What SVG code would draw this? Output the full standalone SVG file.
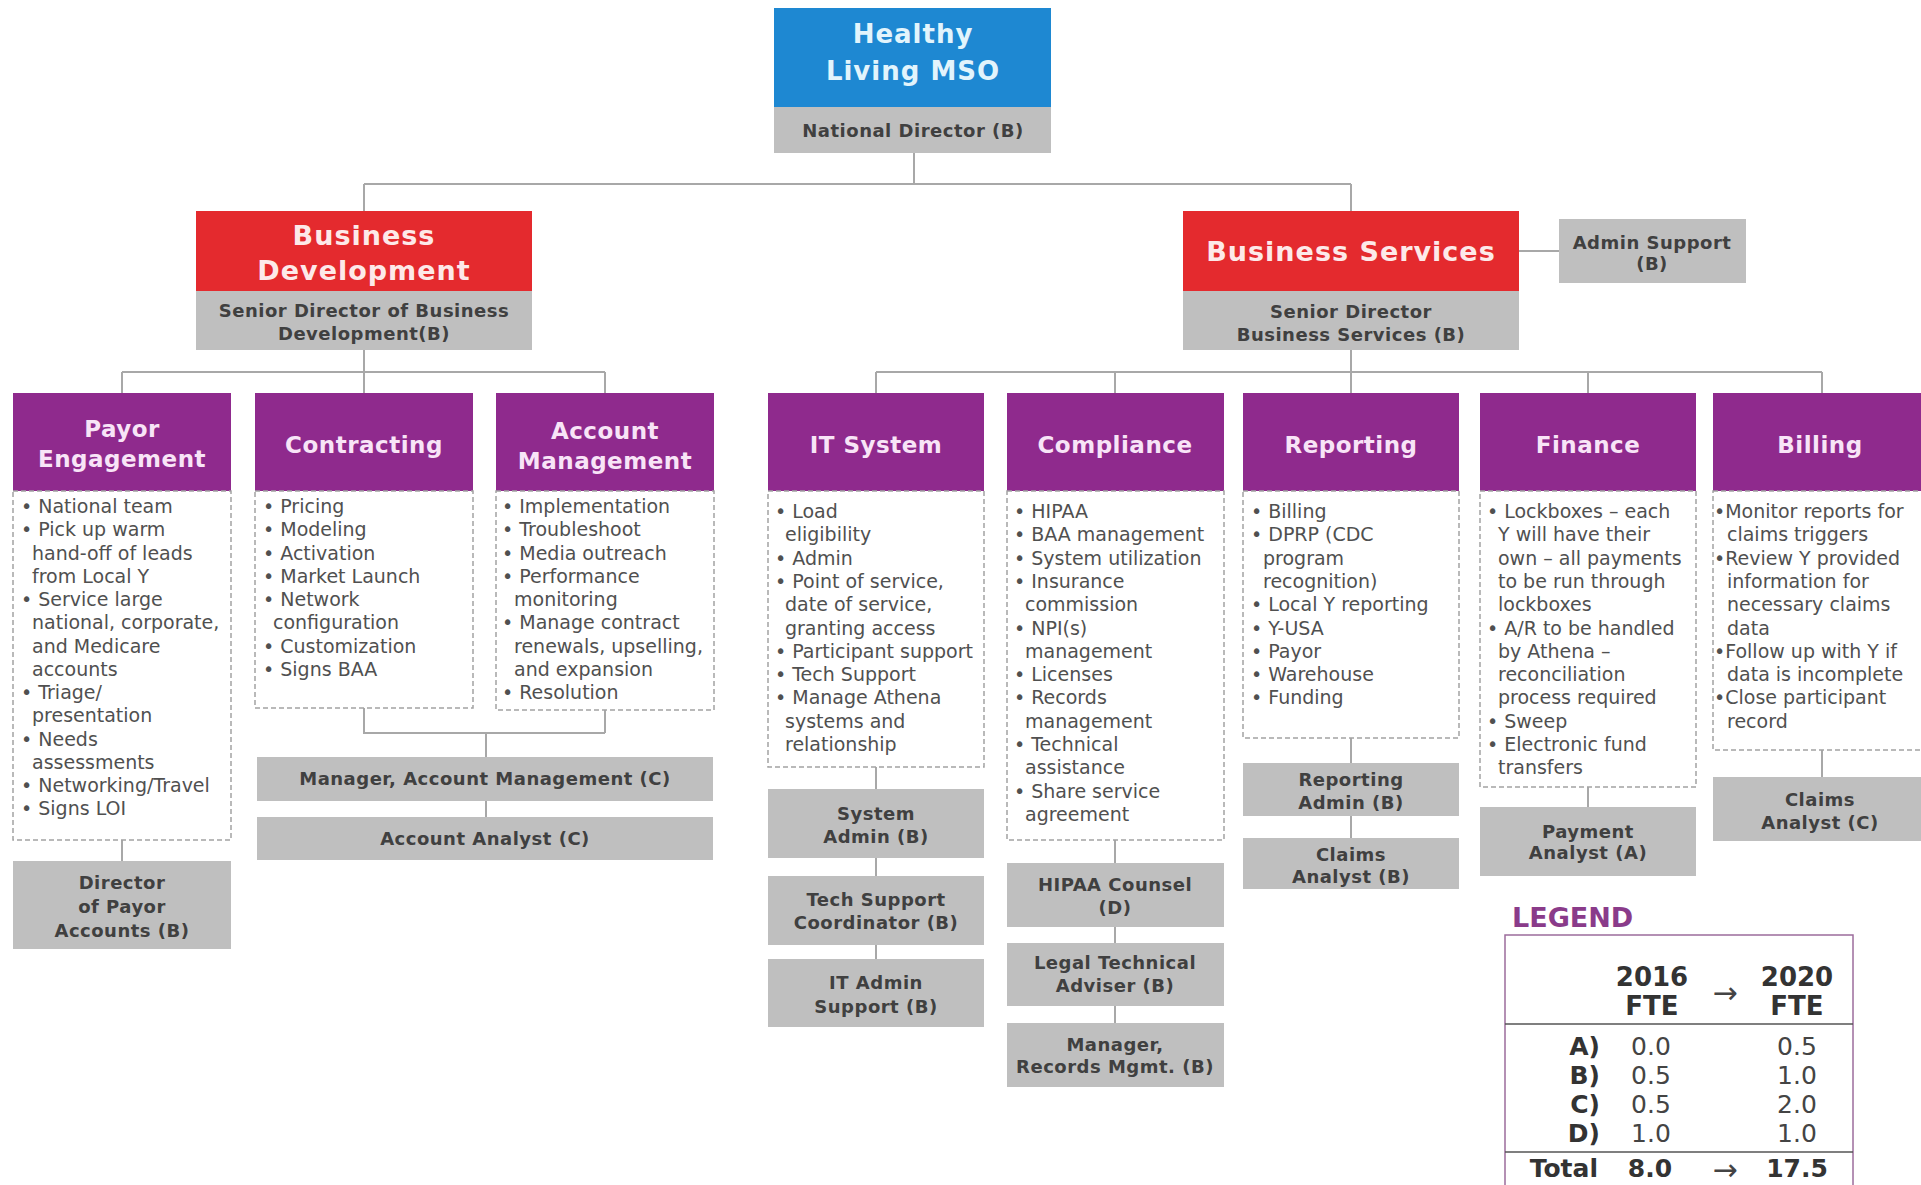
<svg xmlns="http://www.w3.org/2000/svg" width="1921" height="1185" viewBox="0 0 1921 1185">
  <style>
    text { font-family: "DejaVu Sans", Verdana, sans-serif; }
    .top { font-weight: bold; font-size: 26px; fill: #e2f4fc; text-anchor: middle; letter-spacing: 1px; }
    .dept { font-weight: bold; font-size: 27px; fill: #fde9e9; text-anchor: middle; letter-spacing: 1px; }
    .fn { font-weight: bold; font-size: 23px; fill: #f8e4f7; text-anchor: middle; letter-spacing: 0.5px; }
    .role { font-weight: bold; font-size: 18px; fill: #404040; text-anchor: middle; letter-spacing: 0.5px; }
    .item { font-size: 19px; fill: #505050; }
    .blue { fill: #1e88d2; }
    .red { fill: #e42a2e; }
    .purple { fill: #8f2a8d; }
    .gray { fill: #bfbfbf; }
    .duty { fill: #ffffff; stroke: #a3a3a3; stroke-width: 1.5; stroke-dasharray: 5 3; }
    .link { fill: none; stroke: #a8a8a8; stroke-width: 2; }
    .lg-title { font-weight: bold; font-size: 27px; fill: #8a3b8a; }
    .lg-head { font-weight: bold; font-size: 26px; fill: #333333; text-anchor: middle; }
    .lg-key { font-weight: bold; font-size: 25px; fill: #333333; text-anchor: end; }
    .lg-val { font-size: 25px; fill: #444444; text-anchor: middle; }
    .lg-bold { font-weight: bold; font-size: 25px; fill: #333333; text-anchor: middle; }
    .lg-arrow { font-size: 30px; fill: #444444; text-anchor: middle; }
  </style>

  <rect x="0" y="0" width="1921" height="1185" fill="#ffffff"/>

  <!-- connectors -->
  <g id="connectors" class="link">
    <path d="M914 153 V184 M364 184 H1351 M364 184 V211 M1351 184 V211"/>
    <path d="M1519 251 H1559"/>
    <path d="M364 350 V372 M122 372 H605 M122 372 V393 M364 372 V393 M605 372 V393"/>
    <path d="M1351 350 V372 M876 372 H1822 M876 372 V393 M1115 372 V393 M1351 372 V393 M1588 372 V393 M1822 372 V393"/>
    <path d="M122 840 V861"/>
    <path d="M364 708 V733 H605 M605 710 V733 M486 733 V757 M486 801 V817"/>
    <path d="M876 767 V789 M876 858 V876 M876 945 V959"/>
    <path d="M1115 840 V863 M1115 927 V943 M1115 1006 V1023"/>
    <path d="M1351 738 V763 M1351 816 V838"/>
    <path d="M1588 787 V807"/>
    <path d="M1822 750 V777"/>
  </g>

  <!-- top level -->
  <g id="healthy-living-mso">
    <rect class="blue" x="774" y="8" width="277" height="99"/>
    <text class="top" x="913" y="43">Healthy</text>
    <text class="top" x="913" y="80">Living MSO</text>
    <rect class="gray" x="774" y="107" width="277" height="46"/>
    <text class="role" x="913" y="137">National Director (B)</text>
  </g>

  <!-- departments -->
  <g id="business-development">
    <rect class="red" x="196" y="211" width="336" height="80"/>
    <text class="dept" x="364" y="245">Business</text>
    <text class="dept" x="364" y="280">Development</text>
    <rect class="gray" x="196" y="291" width="336" height="59"/>
    <text class="role" x="364" y="317">Senior Director of Business</text>
    <text class="role" x="364" y="340">Development(B)</text>
  </g>

  <g id="business-services">
    <rect class="red" x="1183" y="211" width="336" height="80"/>
    <text class="dept" x="1351" y="261">Business Services</text>
    <rect class="gray" x="1183" y="291" width="336" height="59"/>
    <text class="role" x="1351" y="318">Senior Director</text>
    <text class="role" x="1351" y="341">Business Services (B)</text>
  </g>

  <g id="admin-support">
    <rect class="gray" x="1559" y="219" width="187" height="64"/>
    <text class="role" x="1652" y="249">Admin Support</text>
    <text class="role" x="1652" y="270">(B)</text>
  </g>

  <!-- functions -->
  <g id="payor-engagement">
    <rect class="purple" x="13" y="393" width="218" height="98"/>
    <text class="fn" x="122" y="437">Payor</text>
    <text class="fn" x="122" y="467">Engagement</text>
    <rect class="duty" x="13" y="491" width="218" height="349"/>
    <text class="item" y="513">
      <tspan x="21">• National team</tspan>
      <tspan x="21" dy="23.25">• Pick up warm</tspan>
      <tspan x="32" dy="23.25">hand-off of leads</tspan>
      <tspan x="32" dy="23.25">from Local Y</tspan>
      <tspan x="21" dy="23.25">• Service large</tspan>
      <tspan x="32" dy="23.25">national, corporate,</tspan>
      <tspan x="32" dy="23.25">and Medicare</tspan>
      <tspan x="32" dy="23.25">accounts</tspan>
      <tspan x="21" dy="23.25">• Triage/</tspan>
      <tspan x="32" dy="23.25">presentation</tspan>
      <tspan x="21" dy="23.25">• Needs</tspan>
      <tspan x="32" dy="23.25">assessments</tspan>
      <tspan x="21" dy="23.25">• Networking/Travel</tspan>
      <tspan x="21" dy="23.25">• Signs LOI</tspan>
    </text>
  </g>

  <g id="contracting">
    <rect class="purple" x="255" y="393" width="218" height="98"/>
    <text class="fn" x="364" y="453">Contracting</text>
    <rect class="duty" x="255" y="491" width="218" height="217"/>
    <text class="item" y="513">
      <tspan x="263">• Pricing</tspan>
      <tspan x="263" dy="23.25">• Modeling</tspan>
      <tspan x="263" dy="23.25">• Activation</tspan>
      <tspan x="263" dy="23.25">• Market Launch</tspan>
      <tspan x="263" dy="23.25">• Network</tspan>
      <tspan x="273" dy="23.25">configuration</tspan>
      <tspan x="263" dy="23.25">• Customization</tspan>
      <tspan x="263" dy="23.25">• Signs BAA</tspan>
    </text>
  </g>

  <g id="account-management">
    <rect class="purple" x="496" y="393" width="218" height="98"/>
    <text class="fn" x="605" y="439">Account</text>
    <text class="fn" x="605" y="469">Management</text>
    <rect class="duty" x="496" y="491" width="218" height="219"/>
    <text class="item" y="513">
      <tspan x="502">• Implementation</tspan>
      <tspan x="502" dy="23.25">• Troubleshoot</tspan>
      <tspan x="502" dy="23.25">• Media outreach</tspan>
      <tspan x="502" dy="23.25">• Performance</tspan>
      <tspan x="514" dy="23.25">monitoring</tspan>
      <tspan x="502" dy="23.25">• Manage contract</tspan>
      <tspan x="514" dy="23.25">renewals, upselling,</tspan>
      <tspan x="514" dy="23.25">and expansion</tspan>
      <tspan x="502" dy="23.25">• Resolution</tspan>
    </text>
  </g>

  <g id="it-system">
    <rect class="purple" x="768" y="393" width="216" height="98"/>
    <text class="fn" x="876" y="453">IT System</text>
    <rect class="duty" x="768" y="491" width="216" height="276"/>
    <text class="item" y="518">
      <tspan x="775">• Load</tspan>
      <tspan x="785" dy="23.3">eligibility</tspan>
      <tspan x="775" dy="23.3">• Admin</tspan>
      <tspan x="775" dy="23.3">• Point of service,</tspan>
      <tspan x="785" dy="23.3">date of service,</tspan>
      <tspan x="785" dy="23.3">granting access</tspan>
      <tspan x="775" dy="23.3">• Participant support</tspan>
      <tspan x="775" dy="23.3">• Tech Support</tspan>
      <tspan x="775" dy="23.3">• Manage Athena</tspan>
      <tspan x="785" dy="23.3">systems and</tspan>
      <tspan x="785" dy="23.3">relationship</tspan>
    </text>
  </g>

  <g id="compliance">
    <rect class="purple" x="1007" y="393" width="217" height="98"/>
    <text class="fn" x="1115" y="453">Compliance</text>
    <rect class="duty" x="1007" y="491" width="217" height="349"/>
    <text class="item" y="518">
      <tspan x="1014">• HIPAA</tspan>
      <tspan x="1014" dy="23.3">• BAA management</tspan>
      <tspan x="1014" dy="23.3">• System utilization</tspan>
      <tspan x="1014" dy="23.3">• Insurance</tspan>
      <tspan x="1025" dy="23.3">commission</tspan>
      <tspan x="1014" dy="23.3">• NPI(s)</tspan>
      <tspan x="1025" dy="23.3">management</tspan>
      <tspan x="1014" dy="23.3">• Licenses</tspan>
      <tspan x="1014" dy="23.3">• Records</tspan>
      <tspan x="1025" dy="23.3">management</tspan>
      <tspan x="1014" dy="23.3">• Technical</tspan>
      <tspan x="1025" dy="23.3">assistance</tspan>
      <tspan x="1014" dy="23.3">• Share service</tspan>
      <tspan x="1025" dy="23.3">agreement</tspan>
    </text>
  </g>

  <g id="reporting">
    <rect class="purple" x="1243" y="393" width="216" height="98"/>
    <text class="fn" x="1351" y="453">Reporting</text>
    <rect class="duty" x="1243" y="491" width="216" height="247"/>
    <text class="item" y="518">
      <tspan x="1251">• Billing</tspan>
      <tspan x="1251" dy="23.3">• DPRP (CDC</tspan>
      <tspan x="1263" dy="23.3">program</tspan>
      <tspan x="1263" dy="23.3">recognition)</tspan>
      <tspan x="1251" dy="23.3">• Local Y reporting</tspan>
      <tspan x="1251" dy="23.3">• Y-USA</tspan>
      <tspan x="1251" dy="23.3">• Payor</tspan>
      <tspan x="1251" dy="23.3">• Warehouse</tspan>
      <tspan x="1251" dy="23.3">• Funding</tspan>
    </text>
  </g>

  <g id="finance">
    <rect class="purple" x="1480" y="393" width="216" height="98"/>
    <text class="fn" x="1588" y="453">Finance</text>
    <rect class="duty" x="1480" y="491" width="216" height="296"/>
    <text class="item" y="518">
      <tspan x="1487">• Lockboxes – each</tspan>
      <tspan x="1498" dy="23.3">Y will have their</tspan>
      <tspan x="1498" dy="23.3">own – all payments</tspan>
      <tspan x="1498" dy="23.3">to be run through</tspan>
      <tspan x="1498" dy="23.3">lockboxes</tspan>
      <tspan x="1487" dy="23.3">• A/R to be handled</tspan>
      <tspan x="1498" dy="23.3">by Athena –</tspan>
      <tspan x="1498" dy="23.3">reconciliation</tspan>
      <tspan x="1498" dy="23.3">process required</tspan>
      <tspan x="1487" dy="23.3">• Sweep</tspan>
      <tspan x="1487" dy="23.3">• Electronic fund</tspan>
      <tspan x="1498" dy="23.3">transfers</tspan>
    </text>
  </g>

  <g id="billing">
    <rect class="purple" x="1713" y="393" width="218" height="98"/>
    <text class="fn" x="1820" y="453">Billing</text>
    <rect class="duty" x="1713" y="491" width="218" height="259"/>
    <text class="item" y="518">
      <tspan x="1714">•Monitor reports for</tspan>
      <tspan x="1727" dy="23.3">claims triggers</tspan>
      <tspan x="1714" dy="23.3">•Review Y provided</tspan>
      <tspan x="1727" dy="23.3">information for</tspan>
      <tspan x="1727" dy="23.3">necessary claims</tspan>
      <tspan x="1727" dy="23.3">data</tspan>
      <tspan x="1714" dy="23.3">•Follow up with Y if</tspan>
      <tspan x="1727" dy="23.3">data is incomplete</tspan>
      <tspan x="1714" dy="23.3">•Close participant</tspan>
      <tspan x="1727" dy="23.3">record</tspan>
    </text>
  </g>

  <!-- staff roles -->
  <g id="director-payor-accounts">
    <rect class="gray" x="13" y="861" width="218" height="88"/>
    <text class="role" x="122" y="889">Director</text>
    <text class="role" x="122" y="913">of Payor</text>
    <text class="role" x="122" y="937">Accounts (B)</text>
  </g>

  <g id="manager-account-management">
    <rect class="gray" x="257" y="757" width="456" height="44"/>
    <text class="role" x="485" y="785">Manager, Account Management (C)</text>
  </g>

  <g id="account-analyst">
    <rect class="gray" x="257" y="817" width="456" height="43"/>
    <text class="role" x="485" y="845">Account Analyst (C)</text>
  </g>

  <g id="system-admin">
    <rect class="gray" x="768" y="789" width="216" height="69"/>
    <text class="role" x="876" y="820">System</text>
    <text class="role" x="876" y="843">Admin (B)</text>
  </g>

  <g id="tech-support-coordinator">
    <rect class="gray" x="768" y="876" width="216" height="69"/>
    <text class="role" x="876" y="906">Tech Support</text>
    <text class="role" x="876" y="929">Coordinator (B)</text>
  </g>

  <g id="it-admin-support">
    <rect class="gray" x="768" y="959" width="216" height="68"/>
    <text class="role" x="876" y="989">IT Admin</text>
    <text class="role" x="876" y="1013">Support (B)</text>
  </g>

  <g id="hipaa-counsel">
    <rect class="gray" x="1007" y="863" width="217" height="64"/>
    <text class="role" x="1115" y="891">HIPAA Counsel</text>
    <text class="role" x="1115" y="914">(D)</text>
  </g>

  <g id="legal-technical-adviser">
    <rect class="gray" x="1007" y="943" width="217" height="63"/>
    <text class="role" x="1115" y="969">Legal Technical</text>
    <text class="role" x="1115" y="992">Adviser (B)</text>
  </g>

  <g id="manager-records">
    <rect class="gray" x="1007" y="1023" width="217" height="64"/>
    <text class="role" x="1115" y="1051">Manager,</text>
    <text class="role" x="1115" y="1073">Records Mgmt. (B)</text>
  </g>

  <g id="reporting-admin">
    <rect class="gray" x="1243" y="763" width="216" height="53"/>
    <text class="role" x="1351" y="786">Reporting</text>
    <text class="role" x="1351" y="809">Admin (B)</text>
  </g>

  <g id="claims-analyst-b">
    <rect class="gray" x="1243" y="838" width="216" height="51"/>
    <text class="role" x="1351" y="861">Claims</text>
    <text class="role" x="1351" y="883">Analyst (B)</text>
  </g>

  <g id="payment-analyst">
    <rect class="gray" x="1480" y="807" width="216" height="69"/>
    <text class="role" x="1588" y="838">Payment</text>
    <text class="role" x="1588" y="859">Analyst (A)</text>
  </g>

  <g id="claims-analyst-c">
    <rect class="gray" x="1713" y="777" width="218" height="64"/>
    <text class="role" x="1820" y="806">Claims</text>
    <text class="role" x="1820" y="829">Analyst (C)</text>
  </g>

  <!-- FTE legend -->
  <g id="legend">
    <text class="lg-title" x="1512" y="927">LEGEND</text>
    <rect x="1505" y="935" width="348" height="270" fill="#ffffff" stroke="#9c6c9c" stroke-width="1.5"/>
    <line x1="1505" y1="1024" x2="1853" y2="1024" stroke="#555555" stroke-width="1.5"/>
    <line x1="1505" y1="1152" x2="1853" y2="1152" stroke="#555555" stroke-width="1.5"/>
    <text class="lg-head" x="1652" y="986">2016</text>
    <text class="lg-head" x="1652" y="1015">FTE</text>
    <text class="lg-arrow" x="1725" y="1003">→</text>
    <text class="lg-head" x="1797" y="986">2020</text>
    <text class="lg-head" x="1797" y="1015">FTE</text>
    <text class="lg-key" x="1600" y="1055">A)</text>
    <text class="lg-key" x="1600" y="1084">B)</text>
    <text class="lg-key" x="1600" y="1113">C)</text>
    <text class="lg-key" x="1600" y="1142">D)</text>
    <text class="lg-val" x="1651" y="1055">0.0</text>
    <text class="lg-val" x="1651" y="1084">0.5</text>
    <text class="lg-val" x="1651" y="1113">0.5</text>
    <text class="lg-val" x="1651" y="1142">1.0</text>
    <text class="lg-val" x="1797" y="1055">0.5</text>
    <text class="lg-val" x="1797" y="1084">1.0</text>
    <text class="lg-val" x="1797" y="1113">2.0</text>
    <text class="lg-val" x="1797" y="1142">1.0</text>
    <text class="lg-key" x="1598" y="1177">Total</text>
    <text class="lg-bold" x="1650" y="1177">8.0</text>
    <text class="lg-arrow" x="1725" y="1180">→</text>
    <text class="lg-bold" x="1797" y="1177">17.5</text>
  </g>
</svg>
